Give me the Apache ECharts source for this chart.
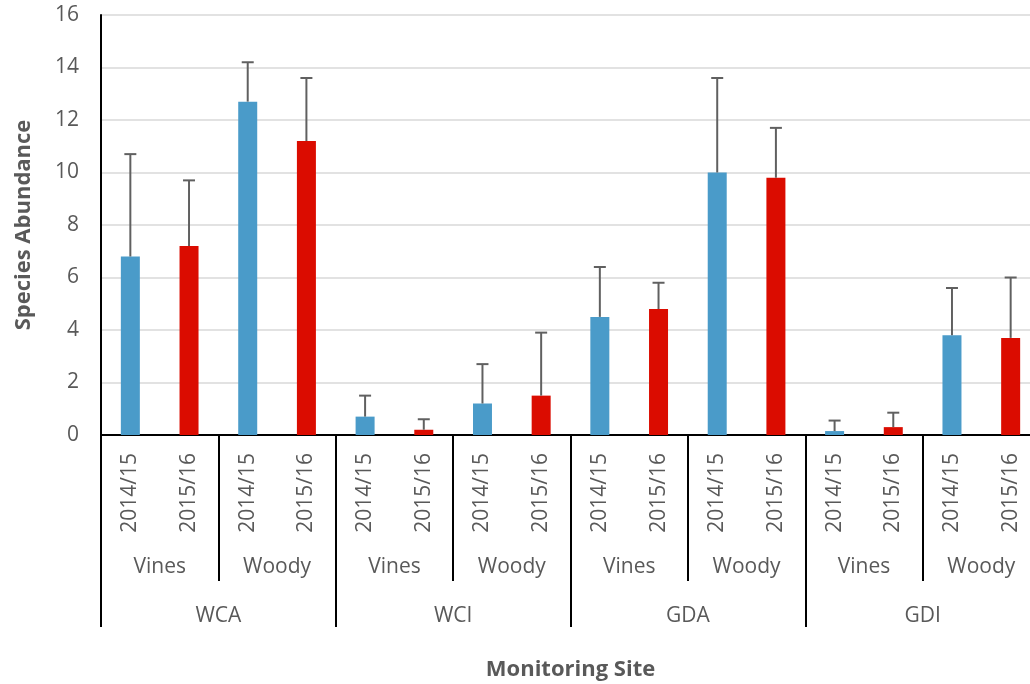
<!DOCTYPE html>
<html>
<head>
<meta charset="utf-8">
<script src="https://cdn.jsdelivr.net/npm/echarts@6/dist/echarts.min.js"></script>
<style>
  html, body { margin: 0; padding: 0; background: #fff; }
  #chart { width: 1030px; height: 684px; }
</style>
</head>
<body>
<div id="chart"></div>
<script>
// Survey seasons, vegetation groups and monitoring sites (three-level category axis)
const years = ['2014/15', '2015/16'];
const groups = ['Vines', 'Woody'];
const sites = ['WCA', 'WCI', 'GDA', 'GDI'];

// Mean species abundance per site/group (order: WCA Vines, WCA Woody, WCI Vines, ...)
const abundance1415 = [6.8, 12.7, 0.7, 1.2, 4.5, 10.0, 0.15, 3.8];
const abundance1516 = [7.2, 11.2, 0.2, 1.5, 4.8, 9.8, 0.3, 3.7];
// Upper error (standard deviation) per site/group
const error1415 = [3.9, 1.5, 0.8, 1.5, 1.9, 3.6, 0.4, 1.8];
const error1516 = [2.5, 2.4, 0.4, 2.4, 1.0, 1.9, 0.55, 2.3];

// Y axis ticks
const yMin = 0, yMax = 16, yStep = 2;

const TEXT = '#595959';
const FONT = '"Open Sans", "Noto Sans", sans-serif';
const BLUE = '#4a9bc9';
const RED = '#db0c00';

// Build the flat category lists for each axis level
const groupLabels = [];
sites.forEach(() => groups.forEach(g => groupLabels.push(g)));
const yearLabels = [];
groupLabels.forEach(() => years.forEach(y => yearLabels.push(y)));

const blueData = [], redData = [], errData = [];
abundance1415.forEach((v, i) => {
  blueData.push(v, '-');
  redData.push('-', abundance1516[i]);
  errData.push([2 * i, v, v + error1415[i]]);
  errData.push([2 * i + 1, abundance1516[i], abundance1516[i] + error1516[i]]);
});

const chart = echarts.init(document.getElementById('chart'));

function renderErrorBar(params, api) {
  const x = api.value(0);
  const base = api.coord([x, api.value(1)]);
  const top = api.coord([x, api.value(2)]);
  const half = 6;
  const style = { stroke: '#606060', lineWidth: 2 };
  return {
    type: 'group',
    children: [
      { type: 'line', shape: { x1: base[0], y1: base[1], x2: top[0], y2: top[1] }, style },
      { type: 'line', shape: { x1: top[0] - half, y1: top[1], x2: top[0] + half, y2: top[1] }, style }
    ]
  };
}

chart.setOption({
  animation: false,
  backgroundColor: '#ffffff',
  grid: {
    left: 101, top: 15, bottom: 249, width: 939,
    containLabel: false, outerBoundsMode: 'none'
  },
  xAxis: [
    {
      type: 'category',
      data: yearLabels,
      position: 'bottom',
      axisLine: { show: true, lineStyle: { color: '#000', width: 2 } },
      axisTick: { show: false },
      axisLabel: {
        interval: 0, rotate: 90, margin: 18,
        color: TEXT, fontFamily: FONT, fontSize: 21
      },
      name: 'Monitoring Site',
      nameLocation: 'middle',
      nameGap: 224,
      nameTextStyle: { color: TEXT, fontFamily: FONT, fontSize: 22, fontWeight: 'bold' }
    },
    {
      type: 'category',
      data: groupLabels,
      position: 'bottom',
      axisLine: { show: false },
      axisTick: { show: true, interval: 0, length: 146, lineStyle: { color: '#000', width: 2 } },
      axisLabel: { interval: 0, margin: 122, color: TEXT, fontFamily: FONT, fontSize: 21 }
    },
    {
      type: 'category',
      data: sites,
      position: 'bottom',
      axisLine: { show: false },
      axisTick: { show: true, interval: 0, length: 192, lineStyle: { color: '#000', width: 2 } },
      axisLabel: { interval: 0, margin: 171, color: TEXT, fontFamily: FONT, fontSize: 21 }
    }
  ],
  yAxis: {
    type: 'value',
    min: yMin, max: yMax, interval: yStep,
    axisLine: { show: true, lineStyle: { color: '#000', width: 2 } },
    axisTick: { show: false },
    splitLine: { show: true, lineStyle: { color: '#d9d9d9', width: 1.5 } },
    axisLabel: { margin: 22, color: TEXT, fontFamily: FONT, fontSize: 21 },
    name: 'Species Abundance',
    nameLocation: 'middle',
    nameGap: 66,
    nameTextStyle: { color: TEXT, fontFamily: FONT, fontSize: 22, fontWeight: 'bold' }
  },
  series: [
    {
      name: years[0], type: 'bar', xAxisIndex: 0, data: blueData,
      barWidth: 19, barGap: '-100%', itemStyle: { color: BLUE }
    },
    {
      name: years[1], type: 'bar', xAxisIndex: 0, data: redData,
      barWidth: 19, barGap: '-100%', itemStyle: { color: RED }
    },
    {
      name: 'error', type: 'custom', xAxisIndex: 0, data: errData,
      renderItem: renderErrorBar, z: 5,
      encode: { x: 0, y: [1, 2] }
    }
  ]
});
</script>
</body>
</html>
